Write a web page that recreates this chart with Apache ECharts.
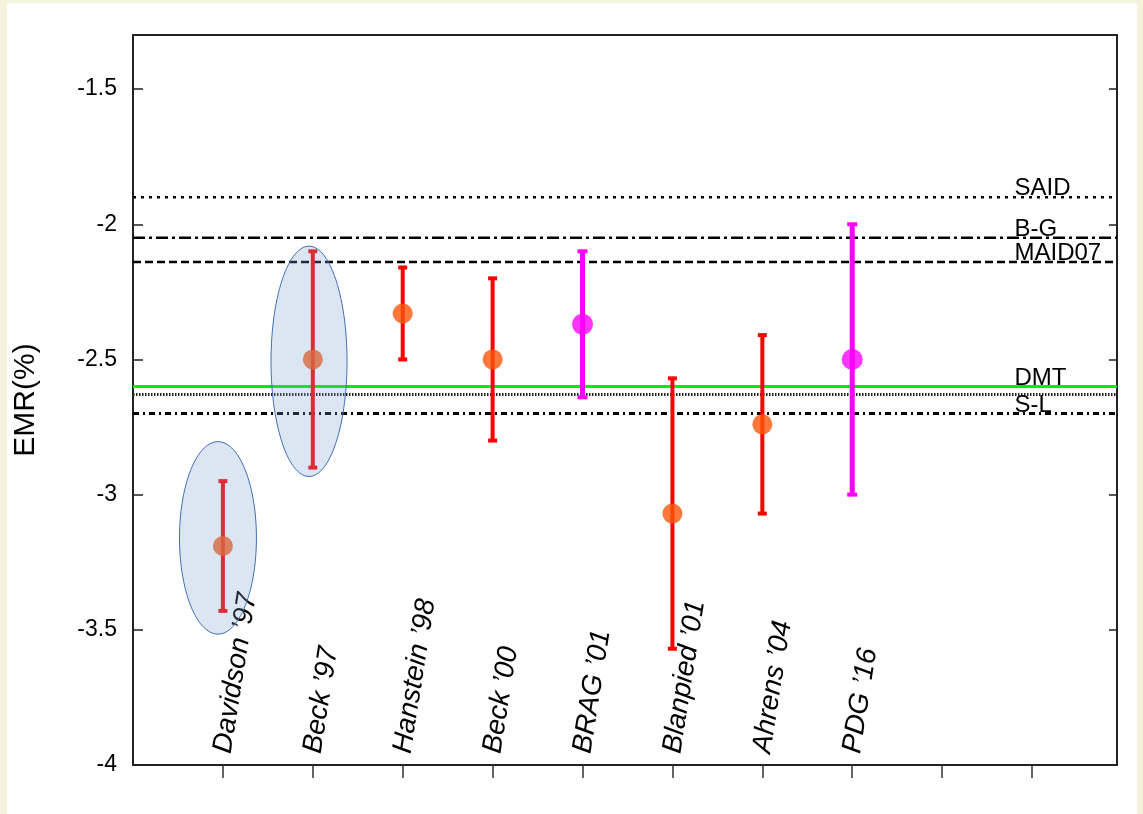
<!DOCTYPE html>
<html><head><meta charset="utf-8">
<script src="https://cdn.jsdelivr.net/npm/echarts@6/dist/echarts.min.js"></script>
<style>
html,body{margin:0;padding:0;background:#f4f4dc;overflow:hidden;}
#paper{position:absolute;left:7px;top:3px;width:1130px;height:811px;background:#fff;}
#main{position:absolute;left:0;top:0;width:1143px;height:814px;}
</style></head><body>
<div id="paper"></div><div id="main"></div>
<script>
// ---- data ----
const categories = ["Davidson \u201997", "Beck \u201997", "Hanstein \u201998", "Beck \u201900", "BRAG \u201901", "Blanpied \u201901", "Ahrens \u201904", "PDG \u201916"];
const positions = [1, 2, 3, 4, 5, 6, 7, 8];
const emrValues = [-3.19, -2.50, -2.33, -2.50, -2.37, -3.07, -2.74, -2.50];
const errUpper  = [-2.95, -2.10, -2.16, -2.20, -2.10, -2.57, -2.41, -2.00];
const errLower  = [-3.43, -2.90, -2.50, -2.80, -2.64, -3.57, -3.07, -3.00];
const groups    = ["circled", "circled", "exp", "exp", "pdg", "exp", "exp", "pdg"];

const theoryNames  = ["SAID", "B-G", "MAID07", "DMT", "", "S-L"];
const theoryValues = [-1.9, -2.05, -2.14, -2.6, -2.63, -2.7];

// highlight ellipses: centre x, centre y, half-width, half-height (data units)
const ellipseCX = [0.945, 1.958];
const ellipseCY = [-3.16, -2.507];
const ellipseRX = [0.428, 0.423];
const ellipseRY = [0.356, 0.426];

const yTicks = [-4, -3.5, -3, -2.5, -2, -1.5];
const xTickValues = [1, 2, 3, 4, 5, 6, 7, 8, 9, 10];

// ---- styles ----
const X_MAX = 10.945, Y_MIN = -4, Y_MAX = -1.3;
const pointColor = {circled: "#fa550a", exp: "#fa550a", pdg: "#ff00ff"};
const barColor   = {circled: "#ff0000", exp: "#ff0000", pdg: "#ff00ff"};
const barWidth   = {circled: 4, exp: 4, pdg: 5};
const theoryStyles = [
  {color: "#000", width: 2.5, type: [3, 5]},
  {color: "#000", width: 2.5, type: [12, 4, 3, 4]},
  {color: "#000", width: 2.5, type: [8, 4]},
  {color: "#00ee00", width: 3, type: "solid"},
  {color: "#222", width: 3, type: [1.5, 1.5]},
  {color: "#000", width: 3, type: [6, 4, 2, 4]}
];
const FONT = "'Liberation Sans', Arial, Helvetica, sans-serif";

const chart = echarts.init(document.getElementById("main"), null, {renderer: "canvas"});

const theorySeries = theoryValues.map((v, i) => ({
  type: "line",
  data: [[0, v], [X_MAX, v]],
  symbol: "none",
  silent: true,
  z: 1,
  lineStyle: {color: theoryStyles[i].color, width: theoryStyles[i].width, type: theoryStyles[i].type}
}));

const option = {
  animation: false,
  grid: {left: 133, top: 35, right: 26, bottom: 49, containLabel: false},
  xAxis: [{
    type: "value", min: 0, max: X_MAX, interval: 1,
    axisLine: {show: true, onZero: false, lineStyle: {color: "#222", width: 2}},
    axisTick: {show: true, inside: false, length: 13, customValues: xTickValues, lineStyle: {color: "#333", width: 1.5}},
    axisLabel: {
      show: true, inside: true, rotate: 81, margin: 12, customValues: positions,
      formatter: v => categories[positions.indexOf(v)] || "",
      fontSize: 28, fontStyle: "italic", color: "#000", fontFamily: FONT
    },
    splitLine: {show: false}
  }, {
    type: "value", position: "top", min: 0, max: X_MAX, interval: 1,
    axisLine: {show: true, onZero: false, lineStyle: {color: "#222", width: 2}},
    axisTick: {show: false}, axisLabel: {show: false}, splitLine: {show: false}
  }],
  yAxis: [{
    type: "value", min: Y_MIN, max: Y_MAX, interval: 0.5,
    name: "EMR(%)", nameLocation: "middle", nameGap: 92, nameRotate: 90,
    nameTextStyle: {fontSize: 30, color: "#000", fontFamily: FONT},
    axisLine: {show: true, onZero: false, lineStyle: {color: "#222", width: 2}},
    axisTick: {show: true, inside: true, length: 10, customValues: yTicks, lineStyle: {color: "#222", width: 1.5}},
    axisLabel: {show: true, margin: 16, customValues: yTicks, fontSize: 23, color: "#000", fontFamily: FONT,
      formatter: v => String(v)},
    splitLine: {show: false}
  }, {
    type: "value", position: "right", min: Y_MIN, max: Y_MAX, interval: 0.5,
    axisLine: {show: true, onZero: false, lineStyle: {color: "#222", width: 2}},
    axisTick: {show: true, inside: true, length: 8, customValues: yTicks, lineStyle: {color: "#222", width: 1.5}},
    axisLabel: {show: false}, splitLine: {show: false}
  }],
  series: [
    ...theorySeries,
    {
      type: "scatter", silent: true, z: 6,
      symbolSize: 1, itemStyle: {color: "#fff", opacity: 0},
      data: theoryValues.map((v, i) => ({name: theoryNames[i], value: [9.81, v]})),
      label: {show: true, position: [0, 0], align: "left", verticalAlign: "bottom", offset: [0, 4],
        formatter: p => p.name, fontSize: 24, color: "#000", opacity: 1, textBorderWidth: 0, fontFamily: FONT}
    },
    {
      type: "custom", silent: true, z: 2,
      data: positions.map((x, i) => [x, errUpper[i], errLower[i], i]),
      renderItem: (params, api) => {
        const i = api.value(3);
        const g = groups[i];
        const top = api.coord([api.value(0), api.value(1)]);
        const bot = api.coord([api.value(0), api.value(2)]);
        const c = barColor[g], w = barWidth[g];
        const cap = w + 5;
        return {type: "group", children: [
          {type: "line", shape: {x1: top[0], y1: top[1], x2: bot[0], y2: bot[1]}, style: {stroke: c, lineWidth: w}},
          {type: "line", shape: {x1: top[0] - cap / 2, y1: top[1], x2: top[0] + cap / 2, y2: top[1]}, style: {stroke: c, lineWidth: 4}},
          {type: "line", shape: {x1: bot[0] - cap / 2, y1: bot[1], x2: bot[0] + cap / 2, y2: bot[1]}, style: {stroke: c, lineWidth: 4}}
        ]};
      }
    },
    {
      type: "scatter", silent: true, z: 3, symbol: "circle",
      data: positions.map((x, i) => ({value: [x, emrValues[i]],
        symbolSize: groups[i] === "pdg" ? 21 : 20,
        itemStyle: {color: pointColor[groups[i]]}}))
    },
    {
      type: "custom", silent: true, z: 5,
      data: ellipseCX.map((x, i) => [x, ellipseCY[i], ellipseRX[i], ellipseRY[i]]),
      renderItem: (params, api) => {
        const cx = api.value(0), cy = api.value(1), rx = api.value(2), ry = api.value(3);
        const pts = [];
        for (let k = 0; k < 120; k++) {
          const t = 2 * Math.PI * k / 120;
          pts.push(api.coord([cx + rx * Math.cos(t), cy + ry * Math.sin(t)]));
        }
        return {type: "polygon", shape: {points: pts},
          style: {fill: "rgba(126,163,207,0.27)", stroke: "#3d6fb6", lineWidth: 1}};
      }
    }
  ]
};
chart.setOption(option);
</script>
</body></html>
